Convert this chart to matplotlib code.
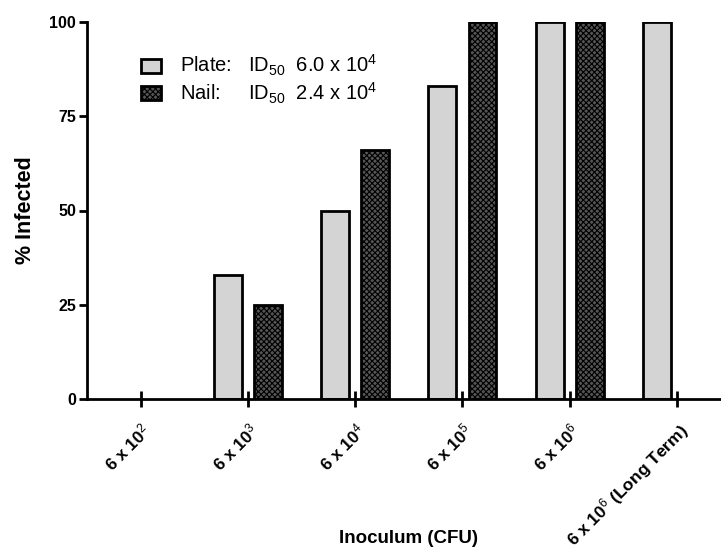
import numpy as np
import matplotlib
matplotlib.use('Agg')
import matplotlib.pyplot as plt

plt.rcParams['font.family'] = ['Liberation Sans', 'DejaVu Sans']
plt.rcParams['mathtext.fontset'] = 'custom'
plt.rcParams['mathtext.rm'] = 'Liberation Sans'
plt.rcParams['mathtext.it'] = 'Liberation Sans:italic'
plt.rcParams['mathtext.bf'] = 'Liberation Sans:bold'
plt.rcParams['hatch.color'] = '#222222'
plt.rcParams['hatch.linewidth'] = 0.8

# data
labels = ['6 x 10$^2$', '6 x 10$^3$', '6 x 10$^4$', '6 x 10$^5$',
          '6 x 10$^6$', '6 x 10$^6$ (Long Term)']
plate = [0, 33, 50, 83, 100, 100]
nail = [0, 25, 66, 100, 100]
plate_label = r'Plate:   ID$_{\mathrm{50}}$  6.0 x 10$^4$'
nail_label = r'Nail:     ID$_{\mathrm{50}}$  2.4 x 10$^4$'

fig = plt.figure(figsize=(7.21, 5.56), dpi=100)
ax = fig.add_axes([87 / 721, 1 - 399 / 556, 634 / 721, 377 / 556])

width = 0.26
off = 0.187
# zero-height bars are not drawn in the original
xp = [i for i, v in enumerate(plate) if v > 0]
xn = [i for i, v in enumerate(nail) if v > 0]
ax.bar(np.array(xp) - off, [plate[i] for i in xp], width, color='#d4d4d4',
       edgecolor='black', linewidth=2, label=plate_label, zorder=2)
ax.bar(np.array(xn) + off, [nail[i] for i in xn], width, color='#555555',
       edgecolor='black', linewidth=2, hatch='xxxxxx', label=nail_label,
       zorder=2)

x = np.arange(len(labels))
ax.set_xlim(-0.5, 5.41)
ax.set_ylim(0, 100)
ax.set_yticks([0, 25, 50, 75, 100])
ax.set_xticks(x)
ax.set_xticklabels(labels, rotation=45, ha='right', rotation_mode='anchor',
                   fontsize=12.5, fontweight='bold')
for s in ['top', 'right']:
    ax.spines[s].set_visible(False)
for s in ['left', 'bottom']:
    ax.spines[s].set_linewidth(2)
ax.tick_params(axis='x', direction='inout', length=12, width=2, pad=9)
ax.tick_params(axis='y', direction='out', length=6, width=2, pad=2,
               labelsize=11.5)
for t in ax.get_yticklabels():
    t.set_fontweight('bold')

ax.set_ylabel('% Infected', fontsize=15.5, fontweight='bold')
ax.yaxis.set_label_coords(-0.08, 0.5)
ax.set_xlabel('Inoculum (CFU)', fontsize=13.5, fontweight='bold')
ax.xaxis.set_label_coords(0.507, -0.348)

ax.legend(loc='upper left', bbox_to_anchor=(0.085, 0.917), frameon=False,
          fontsize=14.5, handlelength=1.0, handleheight=0.7,
          handletextpad=0.95, labelspacing=0.1, borderpad=0,
          borderaxespad=0)

fig.savefig('out.png', dpi=100)
